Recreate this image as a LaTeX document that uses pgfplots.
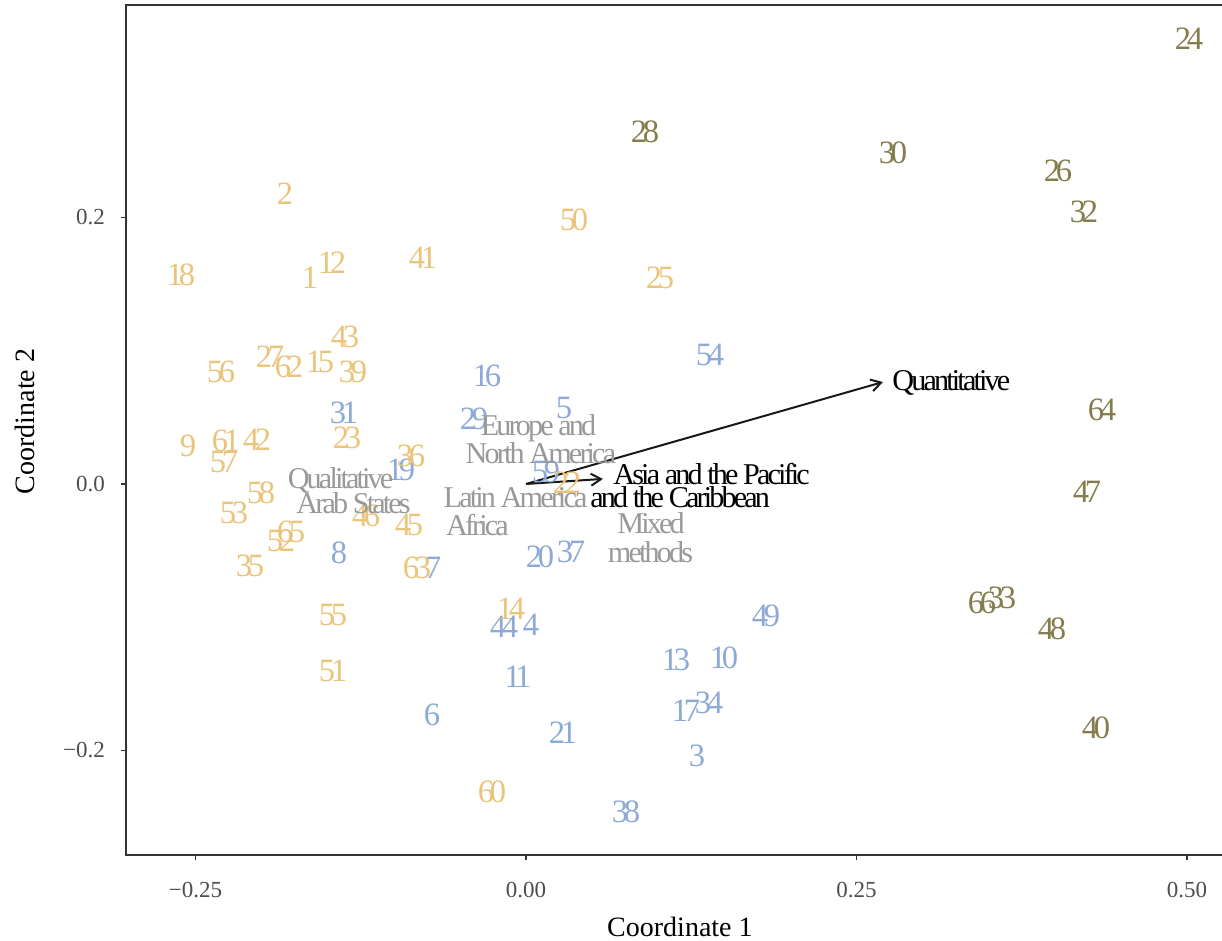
\documentclass[border=0pt]{standalone}
\usepackage{fontspec}
\setmainfont{Liberation Serif}
\newfontfamily\numfont{Liberation Serif}[LetterSpace=-13]
\newfontfamily\labfont{Liberation Serif}[LetterSpace=-9.5]
\usepackage{pgfplots}
\pgfplotsset{compat=1.18}
\usetikzlibrary{arrows.meta}
\definecolor{qualcol}{HTML}{E9C47A}
\definecolor{mixcol}{HTML}{8DAAD6}
\definecolor{quancol}{HTML}{837D4E}
\definecolor{graytxt}{HTML}{999999}
\definecolor{axcol}{HTML}{333333}
\definecolor{tickcol}{HTML}{4D4D4D}

\pgfplotstableread{
x y l
-0.1634 0.1546 1
-0.1823 0.2176 2
-0.1467 0.1659 12
-0.2610 0.1568 18
-0.0779 0.1696 41
0.0363 0.1981 50
0.1014 0.1546 25
-0.1369 0.1103 43
-0.2307 0.0841 56
-0.1936 0.0953 27
-0.1793 0.0878 62
-0.1558 0.0916 15
-0.1309 0.0841 39
-0.2557 0.0285 9
-0.2269 0.0323 61
-0.2035 0.0330 42
-0.2284 0.0165 57
-0.1354 0.0345 23
-0.0870 0.0210 36
-0.2005 -0.0068 58
-0.2209 -0.0218 53
-0.1210 -0.0240 46
-0.0885 -0.0308 45
-0.1853 -0.0428 52
-0.1778 -0.0360 65
-0.2088 -0.0615 35
-0.0825 -0.0630 63
0.0310 0.0008 22
-0.1460 -0.0983 55
-0.1460 -0.1403 51
-0.0113 -0.0938 14
-0.0257 -0.2311 60
}\qualtab

\pgfplotstableread{
x y l
-0.0295 0.0811 16
0.0287 0.0570 5
-0.0393 0.0488 29
-0.1377 0.0533 31
-0.0946 0.0105 19
0.0151 0.0090 59
-0.1415 -0.0518 8
-0.0703 -0.0630 7
0.0106 -0.0548 20
0.0340 -0.0510 37
0.1392 0.0968 54
-0.0166 -0.1073 44
0.0038 -0.1058 4
-0.0061 -0.1448 11
-0.0711 -0.1734 6
0.0280 -0.1869 21
0.1815 -0.0991 49
0.1135 -0.1321 13
0.1498 -0.1306 10
0.1210 -0.1704 17
0.1384 -0.1644 34
0.1293 -0.2041 3
0.0756 -0.2462 38
}\mixtab

\pgfplotstableread{
x y l
0.5015 0.3340 24
0.0900 0.2642 28
0.2776 0.2484 30
0.4024 0.2349 26
0.4221 0.2041 32
0.4357 0.0555 64
0.4244 -0.0060 47
0.3449 -0.0893 66
0.3601 -0.0856 33
0.3979 -0.1088 48
0.4312 -0.1831 40
}\quantab

\begin{document}
\begin{tikzpicture}
\begin{axis}[
  scale only axis, width=549pt, height=425pt,
  xmin=-0.30257, xmax=0.52799, ymin=-0.27842, ymax=0.35947,
  axis line style={draw=axcol, line width=1pt},
  xtick={-0.25,0,0.25,0.5}, xticklabels={−0.25,0.00,0.25,0.50},
  ytick={-0.2,0,0.2}, yticklabels={−0.2,0.0,0.2},
  tick align=outside, major tick length=2.5pt,
  tick style={draw=axcol, line width=0.8pt},
  xtick pos=bottom, ytick pos=left,
  ticklabel style={font=\fontsize{11.5}{13}\selectfont, text=tickcol},
  xticklabel style={yshift=-7.5pt},
  yticklabel style={xshift=-4.5pt},
  xlabel={Coordinate 1}, ylabel={Coordinate 2},
  label style={font=\fontsize{14}{16}\selectfont},
  xlabel style={at={(axis description cs:0.5045,-0.0652)}, anchor=north},
  ylabel style={at={(axis description cs:-0.0769,0.51)}, anchor=south},
  every node near coord/.append style={anchor=center, inner sep=0pt, text depth=0pt},
]
\coordinate (sw) at (rel axis cs:0,0);
\coordinate (ne) at (rel axis cs:1,1);
\addplot[draw=none, mark=none, nodes near coords, point meta=explicit symbolic,
  every node near coord/.append style={text=mixcol, text height=10.9pt, font=\numfont\fontsize{16.3}{17}\selectfont}]
  table[x=x, y=y, meta=l] {\mixtab};
\addplot[draw=none, mark=none, nodes near coords, point meta=explicit symbolic,
  every node near coord/.append style={text=quancol, text height=10.9pt, font=\numfont\fontsize{16.3}{17}\selectfont}]
  table[x=x, y=y, meta=l] {\quantab};
\addplot[draw=none, mark=none, nodes near coords, point meta=explicit symbolic,
  every node near coord/.append style={text=qualcol, text height=10.9pt, font=\numfont\fontsize{16.3}{17}\selectfont}]
  table[x=x, y=y, meta=l] {\qualtab};
\addplot[draw=none, mark=none, nodes near coords, point meta=explicit symbolic,
  every node near coord/.append style={text=graytxt, text height=10.1pt, font=\labfont\fontsize{15.1}{15}\selectfont}]
  coordinates {
   (0.0095,0.0443) [Europe and]
   (0.0113,0.0229) [North America]
   (-0.1403,0.0045) [Qualitative]
   (-0.1305,-0.0143) [Arab States]
   (-0.0079,-0.0098) [Latin America]
   (-0.0367,-0.0308) [Africa]
   (0.0946,-0.0293) [Mixed]
   (0.0942,-0.0510) [methods]
  };
\addplot[-{Straight Barb[length=5pt,width=6pt]}, line width=1pt, color=black!90] coordinates {(0,0) (0.2700,0.0765)};
\addplot[-{Straight Barb[length=5pt,width=6pt]}, line width=1pt, color=black!90] coordinates {(0,0) (0.0582,0.0038)};
\addplot[draw=none, mark=none, nodes near coords, point meta=explicit symbolic,
  every node near coord/.append style={anchor=west, text=black, text height=10.1pt, font=\labfont\fontsize{15.1}{15}\selectfont}]
  coordinates {
   (0.2769,0.0780) [Quantitative]
   (0.0658,0.0075) [Asia and the Pacific]
   (0.0484,-0.0098) [and the Caribbean]
  };
\end{axis}
\pgfresetboundingbox
\path[use as bounding box] ([xshift=-63pt,yshift=-43pt]sw) rectangle ([xshift=-1pt,yshift=2.5pt]ne);
\end{tikzpicture}
\end{document}
